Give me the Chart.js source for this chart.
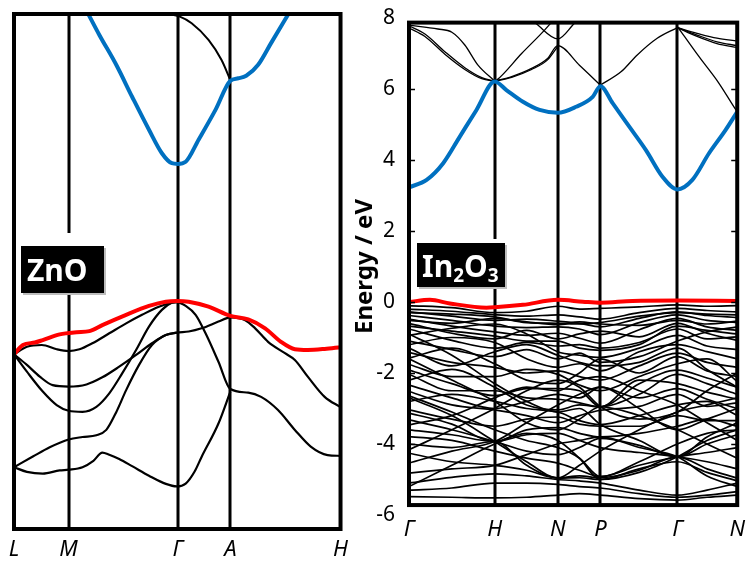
<!DOCTYPE html>
<html lang="en">
<head>
  <meta charset="UTF-8" />
  <title>ZnO / In2O3 band structures</title>
  <script src="https://cdn.jsdelivr.net/npm/chart.js"></script>
  <style>
    body { margin: 0; background: #fff; }
    .figure { position: relative; width: 747px; height: 561px; overflow: hidden; font-family: "Noto Sans", Arial, sans-serif; }
    #znoChart { position: absolute; left: 0; top: 0; }
    #inoChart { position: absolute; left: 345px; top: 0; }
    .tag {
      position: absolute; background: #000; color: #fff; font-weight: bold; font-size: 30px;
      display: flex; align-items: center; padding-left: 6px; box-sizing: border-box;
    }
    .tag sub { font-size: 19px; vertical-align: -5px; line-height: 0; }
  </style>
</head>
<body>
  <div class="figure">
    <canvas id="znoChart" width="356" height="561"></canvas>
    <canvas id="inoChart" width="402" height="561"></canvas>
    <div class="tag" style="left:21px; top:246px; width:83px; height:47px; box-shadow: 2px 2px 0 #bdbdbd, 0 -13px 0 #fff;"><span>ZnO</span></div>
    <div class="tag" style="left:417px; top:243px; width:88px; height:44px; padding-left:5px; box-shadow: 2px 2px 0 #bdbdbd, 0 -4px 0 #fff;"><span>In<sub>2</sub>O<sub>3</sub></span></div>
  </div>

  <script>
    // ---- ZnO (left panel), [k, energy in eV] ----
    const znoK = [0, 55, 165, 218, 329];
    const znoLabels = ['L', 'M', 'Γ', 'A', 'H'];

    const znoCbBlue = [[73.5,8.15],[86,7.49],[103,6.65],[119,5.75],[136,4.82],[149,4.16],[159,3.88],[165,3.86],[173,3.92],[186,4.54],[203,5.38],[218,6.2],[226,6.27],[234,6.34],[246,6.65],[259,7.26],[278,8.15]];
    const znoCbBlack = [[152,8.12],[160,8.06],[166,8.02],[179,7.82],[196,7.35],[209,6.79],[218,6.22]];
    const znoVbRed = [[0,-1.5],[9,-1.24],[21,-1.17],[29,-1.1],[46,-0.94],[63,-0.88],[76,-0.85],[89,-0.68],[113,-0.39],[136,-0.14],[153,-0.02],[164,0],[176,-0.02],[196,-0.16],[218,-0.42],[236,-0.52],[253,-0.77],[269,-1.15],[283,-1.36],[296,-1.38],[313,-1.35],[329,-1.3]];
    const znoVb2 = [[0,-1.5],[13,-1.29],[28,-1.24],[43,-1.36],[55,-1.41],[66,-1.36],[79,-1.19],[96,-0.91],[113,-0.63],[129,-0.39],[146,-0.16],[159,-0.05],[164,-0.03],[173,-0.14],[183,-0.39],[193,-0.91],[206,-1.71],[218,-2.48],[236,-2.58],[249,-2.7],[266,-3.07],[283,-3.63],[299,-4.1],[316,-4.34],[329,-4.36]];
    const znoVb3 = [[0,-1.5],[13,-1.8],[26,-2.13],[39,-2.37],[55,-2.41],[73,-2.35],[89,-2.15],[106,-1.85],[123,-1.52],[139,-1.19],[153,-0.96],[164,-0.89],[176,-0.86],[189,-0.77],[206,-0.58],[218,-0.46],[233,-0.54],[243,-0.77],[256,-1.15],[273,-1.47],[283,-1.66],[296,-2.13],[313,-2.7],[329,-2.99]];
    const znoVb4 = [[0,-1.5],[13,-1.99],[29,-2.55],[43,-2.93],[55,-3.09],[69,-3.12],[83,-2.98],[96,-2.6],[109,-2.04],[123,-1.38],[136,-0.72],[149,-0.25],[159,-0.05],[164,-0.03]];
    const znoVb5 = [[0,-4.68],[19,-4.38],[36,-4.12],[55,-3.9],[69,-3.83],[83,-3.78],[93,-3.63],[103,-3.13],[113,-2.51],[126,-1.8],[139,-1.24],[153,-0.96],[164,-0.89]];
    const znoVb6 = [[0,-4.68],[13,-4.81],[29,-4.86],[46,-4.77],[55,-4.75],[69,-4.68],[80,-4.5],[89,-4.27],[96,-4.33],[106,-4.45],[119,-4.65],[136,-4.92],[153,-5.15],[164,-5.22],[173,-5.14],[182,-4.8],[189,-4.39],[206,-3.45],[218,-2.55]];

    // ---- In2O3 (right panel) ----
    const inoK = [0, 86, 149.3, 192, 269.3, 329.3];
    const inoLabels = ['Γ', 'H', 'N', 'P', 'Γ', 'N'];
    const inoYTicks = [-6, -4, -2, 0, 2, 4, 6, 8];

    const inoCbBlue = [[0,3.23],[17.7,3.44],[34.3,3.91],[51,4.66],[67.7,5.41],[86,6.21],[97.7,5.97],[114.3,5.64],[131,5.41],[149.3,5.33],[167.7,5.5],[184.3,5.78],[192,6.08],[204.3,5.6],[221,4.94],[237.7,4.28],[254.3,3.53],[269.3,3.17],[284.3,3.44],[301,4.19],[317.7,4.85],[329.3,5.36]];
    const inoVbRed = [[0,0],[21,0.06],[41,-0.04],[77.7,-0.16],[86,-0.15],[114.3,-0.08],[149.3,0.06],[174.3,0.01],[192,-0.02],[224.3,0.03],[269.3,0.04],[329.3,0.03]];
    const inoCbUpper = [
      [[0,7.78],[16,7.55],[36,7.05],[56,6.6],[73,6.32],[86,6.22]],
      [[0,7.72],[16,7.48],[36,6.98],[56,6.55],[73,6.29],[86,6.22]],
      [[0,7.8],[29,7.69],[43,7.6],[56,7.24],[69,6.68],[86,6.22]],
      [[86,6.22],[103,6.35],[123,6.58],[139,6.86],[149.3,7.22],[171,6.67],[192,6.11]],
      [[86,6.22],[103,6.33],[123,6.55],[139,6.82],[149.3,7.2]],
      [[86,6.22],[88,6.25],[113,7.0],[136,7.66],[142,7.85]],
      [[127,7.85],[149.3,7.41],[166,7.85]],
      [[192,6.11],[213,6.49],[229,6.96],[249,7.43],[269.3,7.73]],
      [[269.3,7.73],[289,7.57],[309,7.43],[329.3,7.35]],
      [[269.3,7.73],[289,7.52],[309,7.33],[329.3,7.22]],
      [[269.3,7.73],[289,7.48],[309,7.28],[329.3,7.17]],
      [[269.3,7.76],[291,6.91],[311,6.16],[328,5.41],[329.3,5.36]]
    ];

    // valence bands read at Γ · H · N · P · Γ · N
    const inoGrid = [0, 43, 86, 118, 149.3, 171, 192, 231, 269.3, 299, 329.3];
    const inoValence = [
      [-0.10,-0.16,-0.30,-0.26,-0.12,-0.20,-0.18,-0.14,-0.08,-0.12,-0.10],
      [-0.20,-0.26,-0.36,-0.40,-0.36,-0.42,-0.48,-0.30,-0.18,-0.24,-0.28],
      [-0.28,-0.40,-0.52,-0.48,-0.54,-0.60,-0.70,-0.46,-0.28,-0.38,-0.44],
      [-0.38,-0.52,-0.68,-0.72,-0.70,-0.76,-0.92,-0.58,-0.36,-0.52,-0.58],
      [-0.48,-0.68,-0.84,-0.94,-0.88,-1.02,-1.16,-0.78,-0.46,-0.70,-0.80],
      [-0.60,-0.88,-1.04,-0.80,-1.04,-0.90,-0.82,-0.98,-0.60,-0.88,-1.08],
      [-0.76,-1.08,-1.30,-1.14,-1.24,-1.20,-1.30,-1.14,-0.76,-1.04,-0.98],
      [-0.94,-0.74,-0.62,-0.90,-1.40,-1.50,-1.56,-1.30,-0.94,-1.24,-1.34],
      [-1.10,-1.34,-1.54,-1.34,-1.60,-1.44,-1.70,-1.54,-1.10,-0.84,-0.70],
      [-1.20,-1.00,-1.14,-1.60,-1.84,-1.74,-1.94,-1.40,-1.20,-1.40,-1.60],
      [-1.42,-1.70,-1.84,-2.00,-1.94,-2.10,-2.20,-1.80,-1.44,-1.70,-1.84],
      [-1.58,-1.30,-1.74,-2.20,-2.30,-2.00,-1.60,-2.00,-1.54,-1.94,-2.10],
      [-1.76,-2.10,-2.10,-1.90,-2.04,-2.34,-2.50,-2.10,-1.74,-1.60,-2.24],
      [-1.92,-2.30,-2.64,-2.44,-2.44,-2.50,-2.95,-2.30,-1.92,-2.14,-2.40],
      [-2.04,-2.50,-2.50,-2.70,-2.74,-2.84,-2.95,-2.60,-2.04,-2.30,-2.60],
      [-2.20,-1.90,-2.40,-2.90,-3.04,-2.90,-2.95,-2.20,-2.30,-2.54,-2.74],
      [-2.34,-2.70,-3.00,-2.80,-2.60,-2.70,-2.40,-2.70,-2.44,-2.74,-3.00],
      [-2.52,-2.90,-3.04,-3.20,-3.40,-3.20,-3.05,-2.94,-2.60,-2.94,-2.84],
      [-2.80,-2.60,-2.80,-3.00,-3.10,-3.34,-3.45,-3.20,-2.90,-2.80,-3.20],
      [-3.04,-3.30,-3.50,-3.30,-3.24,-3.44,-3.50,-3.50,-3.20,-3.34,-3.34],
      [-3.13,-3.44,-3.93,-3.60,-3.54,-3.70,-3.80,-3.70,-3.50,-3.30,-3.50],
      [-3.32,-3.60,-3.93,-4.20,-4.30,-4.10,-3.84,-4.04,-4.36,-4.00,-3.74],
      [-3.60,-3.74,-3.93,-3.74,-3.70,-3.90,-4.10,-4.24,-4.36,-4.50,-4.70],
      [-3.79,-3.90,-4.20,-4.40,-4.54,-4.74,-4.92,-4.60,-4.36,-4.24,-4.10],
      [-4.00,-4.10,-3.93,-4.60,-4.95,-4.90,-4.95,-4.74,-4.36,-4.70,-4.96],
      [-4.26,-4.50,-4.60,-4.74,-4.96,-4.95,-5.00,-4.70,-4.50,-4.80,-5.04],
      [-4.54,-4.20,-3.93,-3.40,-2.90,-2.60,-2.40,-3.00,-3.60,-3.30,-3.00],
      [-4.82,-4.70,-4.60,-4.30,-4.00,-3.90,-3.80,-4.10,-4.36,-4.90,-5.20],
      [-5.10,-4.94,-4.84,-4.90,-5.00,-5.04,-5.10,-5.30,-5.44,-5.30,-5.10],
      [-5.30,-5.24,-5.10,-5.10,-5.14,-5.20,-5.24,-5.40,-5.50,-5.44,-5.34],
      [-5.48,-5.50,-5.52,-5.50,-5.44,-5.40,-5.44,-5.54,-5.58,-5.50,-5.44],
      [-1.60,-2.20,-2.80,-3.40,-3.60,-3.30,-2.95,-3.20,-3.60,-4.00,-4.40],
      [-4.16,-3.60,-3.00,-2.50,-2.20,-2.40,-2.95,-3.30,-3.10,-2.50,-2.00],
      [-0.90,-1.50,-2.30,-2.80,-3.10,-3.00,-3.45,-3.90,-4.36,-3.80,-3.40],
      [-2.64,-3.10,-3.60,-3.90,-4.10,-4.40,-4.92,-4.50,-4.00,-3.70,-3.60],
      [-3.46,-3.20,-2.70,-2.40,-2.50,-2.20,-2.10,-2.50,-2.90,-3.40,-3.90],
      [-0.52,-0.60,-0.46,-0.56,-0.64,-0.56,-0.62,-0.66,-0.52,-0.62,-0.54],
      [-0.30,-0.34,-0.42,-0.58,-0.60,-0.62,-0.58,-0.40,-0.30,-0.34,-0.36],
      [-5.20,-4.60,-4.00,-3.70,-3.90,-4.40,-5.00,-4.80,-4.36,-3.90,-3.60],
      [-2.70,-3.20,-3.93,-4.50,-4.96,-4.60,-4.20,-3.60,-3.10,-2.90,-2.70],
      [-1.30,-1.80,-1.40,-1.20,-1.50,-1.70,-1.80,-1.70,-1.30,-1.90,-2.40],
      [-0.68,-0.82,-0.96,-1.10,-1.10,-1.30,-1.36,-1.20,-0.68,-0.80,-0.90]
    ];

    const FONT = '"Noto Sans", Arial, sans-serif';
    const BLUE = '#0070c0';
    const RED = '#ff0000';

    function band(points, color, width, order) {
      return {
        data: points.map(p => ({ x: p[0], y: p[1] })),
        borderColor: color,
        borderWidth: width,
        pointRadius: 0,
        fill: false,
        cubicInterpolationMode: 'monotone',
        order: order
      };
    }

    // vertical symmetry lines under the bands, frame on top
    const framePlugin = {
      id: 'frame',
      beforeDatasetsDraw(chart, args, opts) {
        const { ctx, scales: { x, y } } = chart;
        const top = y.getPixelForValue(opts.top);
        const bottom = y.getPixelForValue(opts.bottom);
        ctx.save();
        ctx.strokeStyle = '#000';
        ctx.lineWidth = 3;
        opts.lines.forEach(k => {
          const px = Math.round(x.getPixelForValue(k));
          ctx.beginPath();
          ctx.moveTo(px, top);
          ctx.lineTo(px, bottom);
          ctx.stroke();
        });
        ctx.restore();
      },
      afterDatasetsDraw(chart, args, opts) {
        const { ctx, scales: { x, y } } = chart;
        const top = y.getPixelForValue(opts.top);
        const bottom = y.getPixelForValue(opts.bottom);
        const left = x.getPixelForValue(x.min);
        const right = x.getPixelForValue(x.max);
        ctx.save();
        ctx.strokeStyle = '#000';
        ctx.lineWidth = 4;
        ctx.strokeRect(left, top, right - left, bottom - top);
        if (opts.ticks) {
          ctx.lineWidth = 1.5;
          y.ticks.forEach(t => {
            if (t.value <= opts.bottom || t.value >= opts.top) return;
            const py = Math.round(y.getPixelForValue(t.value)) + 0.5;
            ctx.beginPath();
            ctx.moveTo(left, py); ctx.lineTo(left + 6, py);
            ctx.moveTo(right, py); ctx.lineTo(right - 6, py);
            ctx.stroke();
          });
        }
        ctx.restore();
      }
    };

    function kAxis(kpts, labels, max, height, pad) {
      return {
        type: 'linear',
        min: 0,
        max: max,
        afterBuildTicks: ax => { ax.ticks = kpts.map(v => ({ value: v })); },
        afterFit: s => { s.height = height; },
        ticks: {
          autoSkip: false, maxRotation: 0, padding: pad, color: '#000',
          font: { family: FONT, size: 22, style: 'italic' },
          callback: (v, i) => labels[i]
        },
        grid: { display: false, drawTicks: false },
        border: { display: false }
      };
    }

    // left chart
    const znoSets = [
      band(znoCbBlue, BLUE, 4, 0),
      band(znoVbRed, RED, 4, 1),
      band(znoCbBlack, '#000', 2, 2),
      band(znoVb2, '#000', 2.2, 2),
      band(znoVb3, '#000', 2.2, 2),
      band(znoVb4, '#000', 2.2, 2),
      band(znoVb5, '#000', 2.2, 2),
      band(znoVb6, '#000', 2.2, 2)
    ];

    new Chart(document.getElementById('znoChart'), {
      type: 'line',
      data: { datasets: znoSets },
      plugins: [framePlugin],
      options: {
        responsive: false,
        animation: false,
        events: [],
        layout: { padding: { left: 14, right: 13, top: 14, bottom: 0 } },
        plugins: {
          legend: { display: false },
          tooltip: { enabled: false },
          frame: { lines: znoK.slice(1, -1), top: 8.08, bottom: -6.42, ticks: false }
        },
        scales: {
          x: kAxis(znoK, znoLabels, 329, 32, 8),
          y: { display: false, min: -6.42, max: 8.08 }
        }
      }
    });

    // right chart
    const inoSets = [
      band(inoCbBlue, BLUE, 4, 0),
      band(inoVbRed, RED, 4, 1)
    ];
    inoCbUpper.forEach(b => inoSets.push(band(b, '#000', 1.3, 2)));
    inoValence.forEach(b => inoSets.push(band(b.map((e, i) => [inoGrid[i], e]), '#000', 1.7, 2)));

    new Chart(document.getElementById('inoChart'), {
      type: 'line',
      data: { datasets: inoSets },
      plugins: [framePlugin],
      options: {
        responsive: false,
        animation: false,
        events: [],
        layout: { padding: { left: 0, right: 9, top: 18, bottom: 0 } },
        plugins: {
          legend: { display: false },
          tooltip: { enabled: false },
          frame: { lines: inoK.slice(1, -1), top: 7.87, bottom: -5.72, ticks: true }
        },
        scales: {
          x: kAxis(inoK, inoLabels, 329.3, 46, 2),
          y: {
            min: -6,
            max: 8,
            afterBuildTicks: ax => { ax.ticks = inoYTicks.map(v => ({ value: v })); },
            afterFit: s => { s.width = 64; },
            ticks: { color: '#000', padding: 4, font: { family: FONT, size: 21 } },
            grid: { display: false, drawTicks: true, tickLength: 10 },
            border: { display: false },
            title: {
              display: true,
              text: 'Energy / eV',
              color: '#000',
              font: { family: FONT, size: 24, weight: 'bold' },
              padding: { top: 6, bottom: 0 }
            }
          }
        }
      }
    });
  </script>
</body>
</html>
